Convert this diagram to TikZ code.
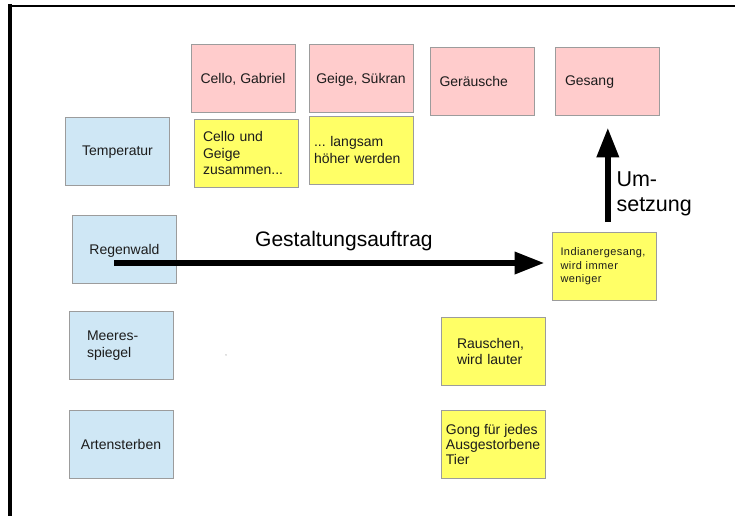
\documentclass[tikz,border=0pt]{standalone}
\usepackage{fontspec}
\setmainfont{Liberation Sans}
\newfontfamily\widefont{Liberation Sans}[LetterSpace=4]
\usepackage{tikz}
\usetikzlibrary{arrows.meta,positioning}
\definecolor{rosa}{HTML}{FFCCCC}
\definecolor{hellblau}{HTML}{CFE7F5}
\definecolor{gelb}{HTML}{FFFF66}
\definecolor{cardline}{HTML}{9C9C9C}
\definecolor{ink}{HTML}{1C1C1C}
\tikzset{
    card/.style={
    rectangle,draw=cardline,line width=0.8pt,minimum width=104pt,minimum height=68pt,
    inner sep=0pt,text=ink,font=\fontsize{14}{16.5}\selectfont
    },
    oneline/.style={
    text depth=0pt
    },
    role/.style={
    card,fill=rosa
    },
    topic/.style={
    card,fill=hellblau
    },
    note/.style={
    card,fill=gelb
    },
    bigarrow/.style={
    line width=6.5pt,draw=black,-{Triangle[length=30pt,width=21pt]}
    },
    frameline/.style={
    draw=black,line cap=rect
    },
}

\begin{document}
\begin{tikzpicture}[x=1pt,y=-1pt]
   \useasboundingbox[fill=white] (0,0) rectangle (735,515);
   \draw[frameline,line width=2.5pt] (9,6.2) -- (740,6.2);
   \draw[frameline,line width=3.5pt] (9.8,6) -- (9.8,520);

   % obere Reihe
   \node[role,oneline] (cello) at (243,78) {Cello, Gabriel};
   \node[role,oneline] (geige) at (361,78) {Geige, Sükran};
   \node[role,oneline,align=left,text width=86pt,inner xsep=9pt] (geraeusche) at (482.5,81) {Geräusche};
   \node[role,oneline,align=left,text width=84pt,inner xsep=10pt] (gesang) at (607,81) {Gesang};

   % Themen links
   \node[topic,oneline] (temperatur) at (117.5,151) {Temperatur};
   \node[topic,oneline] (regenwald) at (124.5,249) {Regenwald};
   \node[topic,align=left,text width=68pt,inner xsep=18pt] (meeres) at (121,345.5) {Meeres-\\spiegel};
   \node[topic,oneline] (arten) at (121,444.5) {Artensterben};

   % Ideen
   \node[note,align=left,text width=86pt,inner xsep=9pt] (zusammen) at (246,153) {Cello und\\Geige\\zusammen...};
   \node[note,align=left,text width=94pt,inner xsep=5pt] (hoeher) at (361,150) {...\ langsam\\höher werden};
   \node[note,align=left,text width=87pt,inner xsep=8.5pt,font=\widefont\fontsize{11}{13.5}\selectfont] (indianer) at (604,266.5) {Indianergesang,\\wird immer\\weniger};
   \node[note,align=left,text width=72pt,inner xsep=16pt] (rauschen) at (493,351.5) {Rauschen,\\wird lauter};
   \node[note,align=left,font=\fontsize{14}{15}\selectfont] (gong) at (493,444.5) {Gong für jedes\\Ausgestorbene\\Tier};

   \node[text=gray,font=\fontsize{7}{8}\selectfont] (komma) at (226,356) {,};

   \path
    ([shift={(-10.5pt,-14pt)}]regenwald.center) edge[bigarrow]
      node[pos=0.534,anchor=base,yshift=16.5pt,font=\fontsize{21}{24}\selectfont] (auftrag) {Gestaltungsauftrag}
      ([shift={(-7pt,3.5pt)}]indianer.west)
    ([shift={(3.8pt,10pt)}]indianer.north) edge[bigarrow]
      node[pos=0.3,anchor=west,xshift=5.5pt,align=left,inner sep=0pt,font=\fontsize{21.5}{24.5}\selectfont] (umsetzung) {Um-\\setzung}
      ([shift={(0.8pt,-12pt)}]gesang.south);
\end{tikzpicture}
\end{document}
